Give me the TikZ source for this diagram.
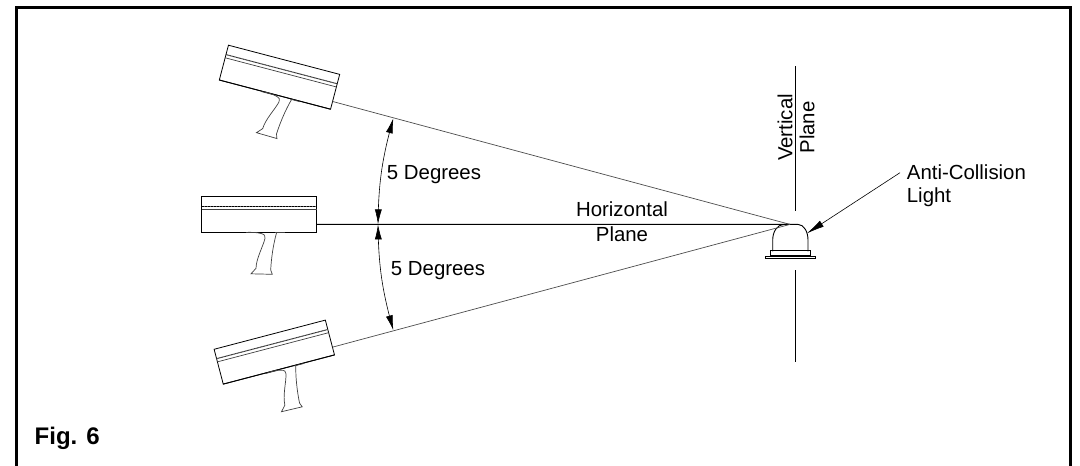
\documentclass[tikz,border=0pt]{standalone}
\usepackage{fontspec}
\setmainfont{Liberation Sans}
\usetikzlibrary{arrows.meta,bending}

\begin{document}
\begin{tikzpicture}[
    x=1pt, y=-1pt,
    thinline/.style={line width=0.7pt, draw=black!75},
    sightline/.style={line width=0.7pt, draw=black!70},
    lampline/.style={line width=0.9pt},
    dimarrow/.style={{Latex[length=15pt,width=7pt,flex'=1]}-{Latex[length=15pt,width=7pt,flex'=1]}, line width=0.6pt},
    label/.style={font=\fontsize{20.4}{23.7}\selectfont, align=center, inner sep=0pt},
    gunbody/.style={rectangle, draw, line width=0.8pt, minimum width=115pt, minimum height=36pt, inner sep=0pt, transform shape},
    radargun/.pic={
        \node[gunbody] (-body) at (0,0) {};
        \coordinate (-exit) at (57.5,10);
        \draw[line width=1pt, draw=black!60] (-57.5,-8.3) -- (57.5,-8.3);
        \draw[line width=0.5pt, densely dotted] (-57.5,-8.3) -- (57.5,-8.3);
        \draw[thinline] (-57.5,-5) -- (57.5,-5);
        \draw[line width=0.9pt] (-57.5,18) -- (57.5,18);
        \draw[thinline] (-13.5,18.5) -- (-2,18.5);
        \draw[thinline] (16,18.5) -- (26,18.5);
        \draw[thinline] (-11,18) .. controls (-2,18) and (8,19) .. (5.8,24)
            .. controls (4,32) and (-3,44) .. (-3.2,54) -- (-8.2,59.5) -- (13.1,60) -- (11.5,55.7)
            .. controls (12,45) and (14,30) .. (17.5,18);
    }
]
\useasboundingbox (0,0) rectangle (1080,466);

% Frame
\draw[line width=3.2pt] (16.5,467) -- (16.5,7.3) -- (1070.7,7.3) -- (1070.7,467);
\node[label, anchor=west, font=\bfseries\fontsize{24}{28}\selectfont] (figlabel) at (34.5,438.5) {Fig. 6};

% Guns
\pic[rotate=-14.7] (guntop) at (279.5,77.2) {radargun};
\pic (gunmid) at (259.2,214.3) {radargun};
\pic[rotate=14.7] (gunlow) at (274.3,352.1) {radargun};

% Light
\coordinate (lamptip) at (790,224.4);
\node[rectangle, draw, lampline, minimum width=50pt, minimum height=2.6pt, inner sep=0pt] (lampfoot) at (790,257.5) {};
\node[rectangle, draw, lampline, minimum width=40pt, minimum height=5pt, inner sep=0pt, anchor=south] (lampbase) at (lampfoot.north) {};
\draw[lampline] (772.7,251.3) -- (772.7,240) .. controls (772.7,232) and (777,224.4) .. (784,224.4)
    -- (798,224.4) .. controls (804,224.4) and (808,232) .. (808,240) -- (808,251.3);

% Vertical plane
\coordinate (vtop) at (795.3,66);
\coordinate (vgap) at (795.3,210.7);
\coordinate (vres) at (795.3,270);
\coordinate (vend) at (795.3,362);
\draw[lampline] (vtop) -- (vgap);
\draw[lampline] (vres) -- (vend);
\node[label, rotate=90, font=\fontsize{20.4}{22}\selectfont] (vlabel) at (796,127.5) {Vertical\\Plane};

% Sight lines
\draw[sightline] (guntop-exit) -- (lamptip);
\draw[lampline] (gunmid-exit) -- (lamptip);
\draw[sightline] (gunlow-exit) -- (lamptip);

% Angles
\coordinate (arctop) at (393.3,118.3);
\coordinate (arcmid) at (378,224.4);
\coordinate (arclow) at (393.3,330.3);
\draw[dimarrow] (arctop) to[bend right=7.5] (arcmid);
\draw[dimarrow] (arcmid) to[bend right=7.5] (arclow);
\node[label] (angletop) at (434,175) {5 Degrees};
\node[label] (anglelow) at (438,270.3) {5 Degrees};

% Labels
\node[label, font=\fontsize{20.4}{25}\selectfont] (hlabel) at (622,222) {Horizontal\\Plane};
\node[label, align=left, anchor=west] (lightlabel) at (906.7,185.7) {Anti-Collision\\Light};
\coordinate (pointerstart) at (900,172.7);
\coordinate (pointerend) at (806.7,233.5);
\draw[-{Latex[length=18pt,width=7pt]}, line width=0.6pt] (pointerstart) -- (pointerend);
\end{tikzpicture}
\end{document}
